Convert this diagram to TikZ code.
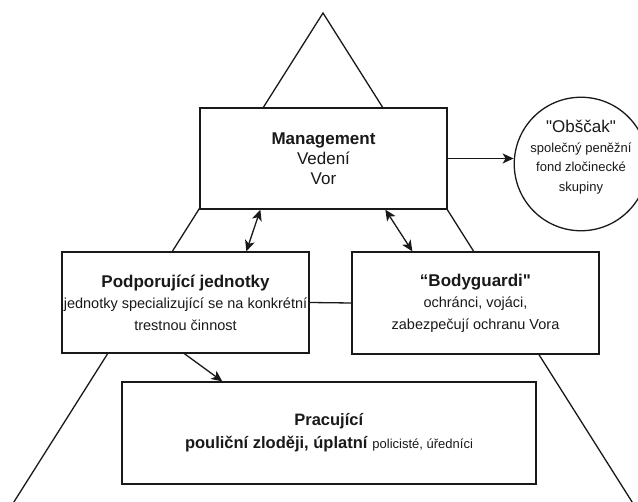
\documentclass[tikz,border=0pt]{standalone}
\usepackage{fontspec}
\setmainfont{Liberation Sans}[Ligatures=TeXOff]
\usetikzlibrary{arrows.meta,calc}
\begin{document}
\begin{tikzpicture}[x=1pt,y=-1pt,
  line/.style={draw=black!90, line width=1.3pt},
  box/.style={line, fill=white, inner sep=0pt, align=center, text=black!90},
  tip/.style={Stealth[length=11pt,width=10pt,inset=3pt]},
  arr/.style={line, -{Stealth[length=11pt,width=10pt,inset=3pt]}},
  darr/.style={line, {Stealth[length=11pt,width=10pt,inset=3pt]}-{Stealth[length=11pt,width=10pt,inset=3pt]}},
  big/.style={font=\fontsize{17}{20}\selectfont},
  mid/.style={font=\fontsize{14.5}{21.5}\selectfont},
]
\useasboundingbox (0,0) rectangle (638,502);
\begin{scope}
\clip (0,0) rectangle (638,502);
% pyramid outline
\coordinate (apex) at (323,13);
\coordinate (bl) at (12,505);
\coordinate (br) at (634,505);
\draw[line, line join=miter] (bl) -- (apex) -- (br);
\end{scope}

\node[box, big, minimum width=247pt, minimum height=101pt] (mgmt) at (323.5,158.5)
  {\textbf{Management}\\Vedení\\Vor};
\node[box, mid, minimum width=247pt, minimum height=101pt] (podp) at (185.5,302.5)
  {{\fontsize{17}{21.5}\selectfont\textbf{Podporující jednotky}}\\jednotky specializující se na konkrétní\\trestnou činnost};
\node[box, mid, minimum width=247pt, minimum height=102pt] (body) at (475.5,303)
  {{\fontsize{17}{21.5}\selectfont\textbf{“Bodyguardi"}}\\ochránci, vojáci,\\zabezpečují ochranu Vora};
\node[box, font=\fontsize{16.5}{23}\selectfont, minimum width=414pt, minimum height=102pt] (prac) at (329,433)
  {\textbf{Pracující}\\\textbf{pouliční zloději, úplatní} {\fontsize{13}{23}\selectfont policisté, úředníci}};
\node[box, circle, minimum size=111pt, font=\fontsize{13}{19.5}\selectfont] (circ) at (581,164)
  {{\fontsize{17}{19.5}\selectfont "Obščak"}\\společný peněžní\\fond zločinecké\\skupiny\\[-3pt]};

\draw[arr] (mgmt.east) -- (circ.west |- mgmt.east);
\draw[darr] ($(mgmt.south west)+(61,0)$) -- ($(podp.north west)+(185,0)$);
\draw[darr] ($(mgmt.south west)+(186,0)$) -- ($(body.north west)+(61,0)$);
\draw[line] (podp.east) -- (body.west);
\draw[arr] ($(podp.south west)+(123,0)$) -- ($(prac.north west)+(101,0)$);
\end{tikzpicture}
\end{document}
